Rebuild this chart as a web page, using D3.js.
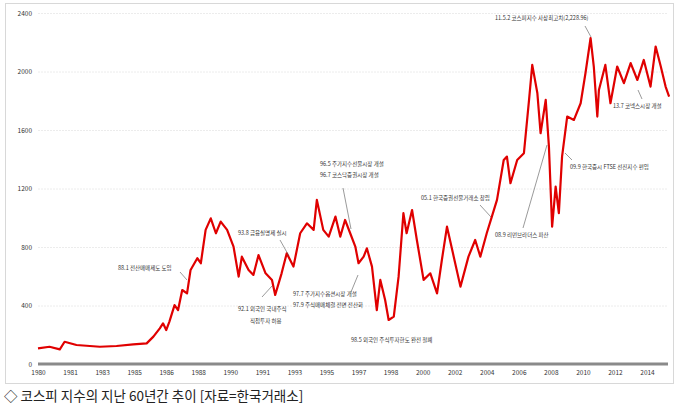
<!DOCTYPE html>
<html><head><meta charset="utf-8">
<script src="https://cdn.jsdelivr.net/npm/d3@7"></script>
<style>body{margin:0;background:#fff}text{font-family:"Noto Sans CJK KR","Noto Sans",sans-serif}</style>
</head><body>
<script>
// tick labels on the category axis (evenly spaced, as in the source)
var tickYears = ["1980","1981","1983","1985","1986","1988","1990","1991","1993","1995",
  "1997","1998","2000","2002","2004","2006","2008","2010","2012","2014"];
var yTicks = [0, 400, 800, 1200, 1600, 2000, 2400];
// position along the axis (in tick units) and KOSPI value
var pos = [0,0.36,0.68,0.83,1.2,1.93,2.45,2.97,3.39,3.6,3.8,3.9,4.0,4.1,4.26,4.37,4.5,4.65,4.76,4.97,5.08,5.23,5.39,5.55,5.7,5.9,6.1,6.26,6.36,6.57,6.72,6.88,7.1,7.3,7.4,7.6,7.76,7.97,8.18,8.39,8.6,8.7,8.9,9.07,9.28,9.43,
  9.58,9.74,9.9,10.0,10.16,10.26,10.42,10.57,10.68,10.83,10.94,11.1,11.25,11.4,11.5,11.67,11.82,12.03,12.24,12.45,12.6,12.76,12.97,13.18,13.43,13.64,13.8,14.0,14.16,14.32,14.53,14.63,14.74,14.95,15.16,15.32,15.42,15.58,15.68,15.84,15.94,16.04,16.15,16.25,16.35,16.51,16.72,16.93,17.08,17.24,17.34,17.45,17.5,17.7,17.86,18.07,18.28,18.49,18.7,18.9,19.11,19.27,19.43,19.58,19.69];
var kospi = [107,118,100,152,130,118,123,134,141,187,244,278,232,290,403,369,506,483,643,723,689,917,996,894,974,917,803,597,734,643,609,745,620,574,472,620,757,666,894,962,917,1122,917,871,1008,871,
  985,894,803,689,734,791,666,369,575,438,301,324,597,1031,894,1053,848,575,620,483,711,939,734,529,734,848,734,894,1008,1122,1395,1418,1236,1395,1441,1806,2045,1851,1578,1806,1487,939,1213,1031,1418,1692,1669,1783,1988,2229,2034,1692,1874,2045,1783,2034,1920,2057,1942,2079,1897,2171,2034,1897,1829];

var svg = d3.select("body").append("svg").attr("width", 680).attr("height", 409);
svg.append("rect").attr("x", 5.5).attr("y", 3.5).attr("width", 668).attr("height", 380)
  .attr("fill", "none").attr("stroke", "#d8d8d8");

var x = d3.scaleLinear().domain([0, 19]).range([38, 647]);
var y = d3.scaleLinear().domain([0, 2400]).range([364, 13]);

var ya = svg.append("g").attr("transform", "translate(38,0)")
  .call(d3.axisLeft(y).tickValues(yTicks).tickSize(-630).tickFormat(d3.format("d")));
ya.select(".domain").remove();
ya.selectAll("line").attr("stroke", "#ececec").attr("stroke-dasharray", "2,1");
ya.selectAll("text").attr("font-size", 6.5).attr("fill", "#333").attr("x", -6);

var xa = svg.append("g").attr("transform", "translate(0,364)")
  .call(d3.axisBottom(x).tickValues(d3.range(20)).tickSize(0).tickFormat(function(d){ return tickYears[d]; }));
xa.select(".domain").attr("stroke", "#8a8a8a").attr("stroke-width", 3).attr("d", "M38,0H668");
xa.selectAll("text").attr("font-size", 6.5).attr("fill", "#333").attr("dy", 8);

var line = d3.line().x(function(d, i){ return x(pos[i]); }).y(function(d){ return y(d); });
svg.append("path").datum(kospi).attr("d", line).attr("fill", "none")
  .attr("stroke", "#e00000").attr("stroke-width", 2.2).attr("stroke-linejoin", "round");

var notes = [
  [118, 270, "88.1 전산매매제도 도입"], [238, 235, "93.8 금융실명제 실시"],
  [238, 311, "92.1 외국인 국내주식"], [250, 323, "직접투자 허용"],
  [320, 166, "96.5 주가지수선물시장 개설"], [320, 177, "96.7 코스닥증권시장 개설"],
  [293, 296, "97.7 주가지수옵션시장 개설"], [293, 307, "97.9 주식매매체결 전면 전산화"],
  [351, 342, "98.5 외국인 주식투자한도 완전 철폐"], [421, 200, "05.1 한국증권선물거래소 창립"],
  [495, 237, "08.9 리먼브라더스 파산"], [570, 169, "09.9 한국증시 FTSE 선진지수 편입"],
  [495, 20, "11.5.2 코스피지수 사상최고치(2,228.96)"], [613, 108, "13.7 코넥스시장 개설"]];
svg.selectAll(".note").data(notes).enter().append("text")
  .attr("x", function(d){ return d[0]; }).attr("y", function(d){ return d[1]; })
  .attr("font-size", 5.5).attr("fill", "#333").text(function(d){ return d[2]; });

var arrows = [[180,272,187,280],[280,240,289,256],[262,297,272,286],[343,188,351,229],
  [351,292,358,275],[480,205,491,217],[523,228,547,145],[572,160,565,153],[585,26,591,37],[642,99,638,90]];
svg.selectAll(".ar").data(arrows).enter().append("line")
  .attr("x1", function(d){ return d[0]; }).attr("y1", function(d){ return d[1]; })
  .attr("x2", function(d){ return d[2]; }).attr("y2", function(d){ return d[3]; })
  .attr("stroke", "#555").attr("stroke-width", 0.6);

svg.append("text").attr("x", 4).attr("y", 401).attr("font-size", 13.5).attr("fill", "#222")
  .text("◇ 코스피 지수의 지난 60년간 추이 [자료=한국거래소]");
</script>
</body></html>
